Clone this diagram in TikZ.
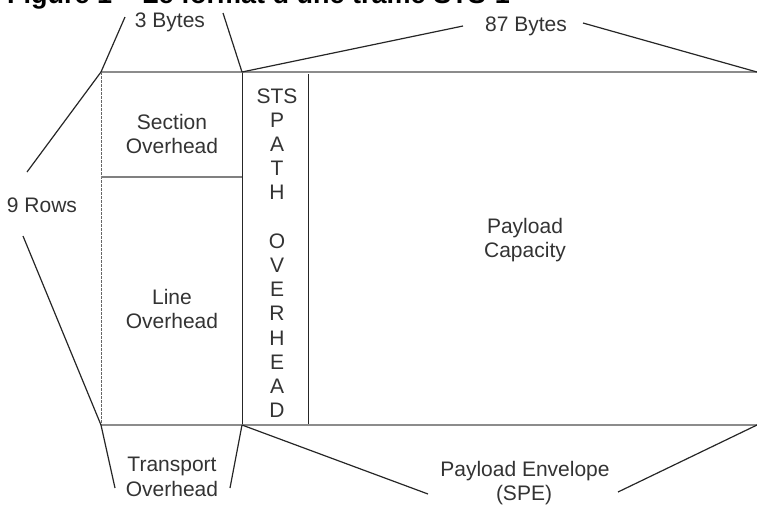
\documentclass[tikz,border=0pt]{standalone}
\usepackage{fontspec}
\setmainfont{Liberation Sans}
\begin{document}
\begin{tikzpicture}[x=1pt,y=-1pt,
  lbl/.style={anchor=base,inner sep=0pt,text=black!80,font=\fontsize{21}{24}\selectfont},
  rule/.style={draw=black!45,line width=2.6pt},
  midrule/.style={draw=black!50,line width=2pt},
  vline/.style={draw=black!85,line width=1pt},
  dvline/.style={draw=black!60,line width=1pt,dash pattern=on 3pt off 1pt},
  leader/.style={draw=black!85,line width=1.2pt}]
\useasboundingbox (0,0) rectangle (757,507);
% title (cut off at top)
\node[anchor=base west,inner sep=0pt,font=\fontsize{27}{30}\selectfont\bfseries] (title) at (7,3) {Figure 1 – Le format d'une trame STS-1};
% frame corners
\coordinate (TL) at (101,72);
\coordinate (TM) at (242,72);
\coordinate (TR) at (757,72);
\coordinate (BL) at (101,425);
\coordinate (BM) at (242,425);
\coordinate (BR) at (757,425);
\coordinate (PT) at (308,74);
\coordinate (PB) at (308,425);
\coordinate (DL) at (101,177);
\coordinate (DR) at (242,177);
% verticals
\draw[dvline] (TL) -- (BL);
\draw[vline] (TM) -- (BM);
\draw[vline] (PT) -- (PB);
% rules
\draw[rule] (TL) -- (TR);
\draw[rule] (BL) -- (BR);
\draw[midrule] (DL) -- (DR);
% labels
\node[lbl] (b3) at (170,27) {3 Bytes};
\node[lbl] (b87) at (526,31) {87 Bytes};
\node[lbl] (rows) at (42,212) {9 Rows};
\node[lbl] (sec1) at (172,129) {Section};
\node[lbl] (sec2) at (172,153) {Overhead};
\node[lbl] (lin1) at (172,304) {Line};
\node[lbl] (lin2) at (172,328) {Overhead};
\node[lbl] (tr1) at (172,471) {Transport};
\node[lbl] (tr2) at (172,496) {Overhead};
\node[lbl] (pc1) at (525,233) {Payload};
\node[lbl] (pc2) at (525,257) {Capacity};
\node[lbl] (pe1) at (525,476) {Payload Envelope};
\node[lbl] (pe2) at (524,500) {(SPE)};
\foreach \t [count=\i] in {STS,P,A,T,H}
  \node[lbl] (ca\i) at (277,{103+(\i-1)*24.2}) {\t};
\foreach \t [count=\i] in {O,V,E,R,H,E,A,D}
  \node[lbl] (cb\i) at (277,{103+(\i+5)*24.2}) {\t};
% leader end points
\coordinate (b3l) at (125,17);
\coordinate (b3r) at (223,13);
\coordinate (b87l) at (463,26);
\coordinate (b87r) at (583,23);
\coordinate (rowu) at (27,172);
\coordinate (rowd) at (23,236);
\coordinate (trl) at (115,488);
\coordinate (trr) at (230,488);
\coordinate (pel) at (428,494);
\coordinate (per) at (618,492);
% leaders
\draw[leader] (TL) -- (b3l);
\draw[leader] (b3r) -- (TM);
\draw[leader] (TM) -- (b87l);
\draw[leader] (b87r) -- (TR);
\draw[leader] (TL) -- (rowu);
\draw[leader] (rowd) -- (BL);
\draw[leader] (BL) -- (trl);
\draw[leader] (BM) -- (trr);
\draw[leader] (BM) -- (pel);
\draw[leader] (per) -- (BR);
\end{tikzpicture}
\end{document}
